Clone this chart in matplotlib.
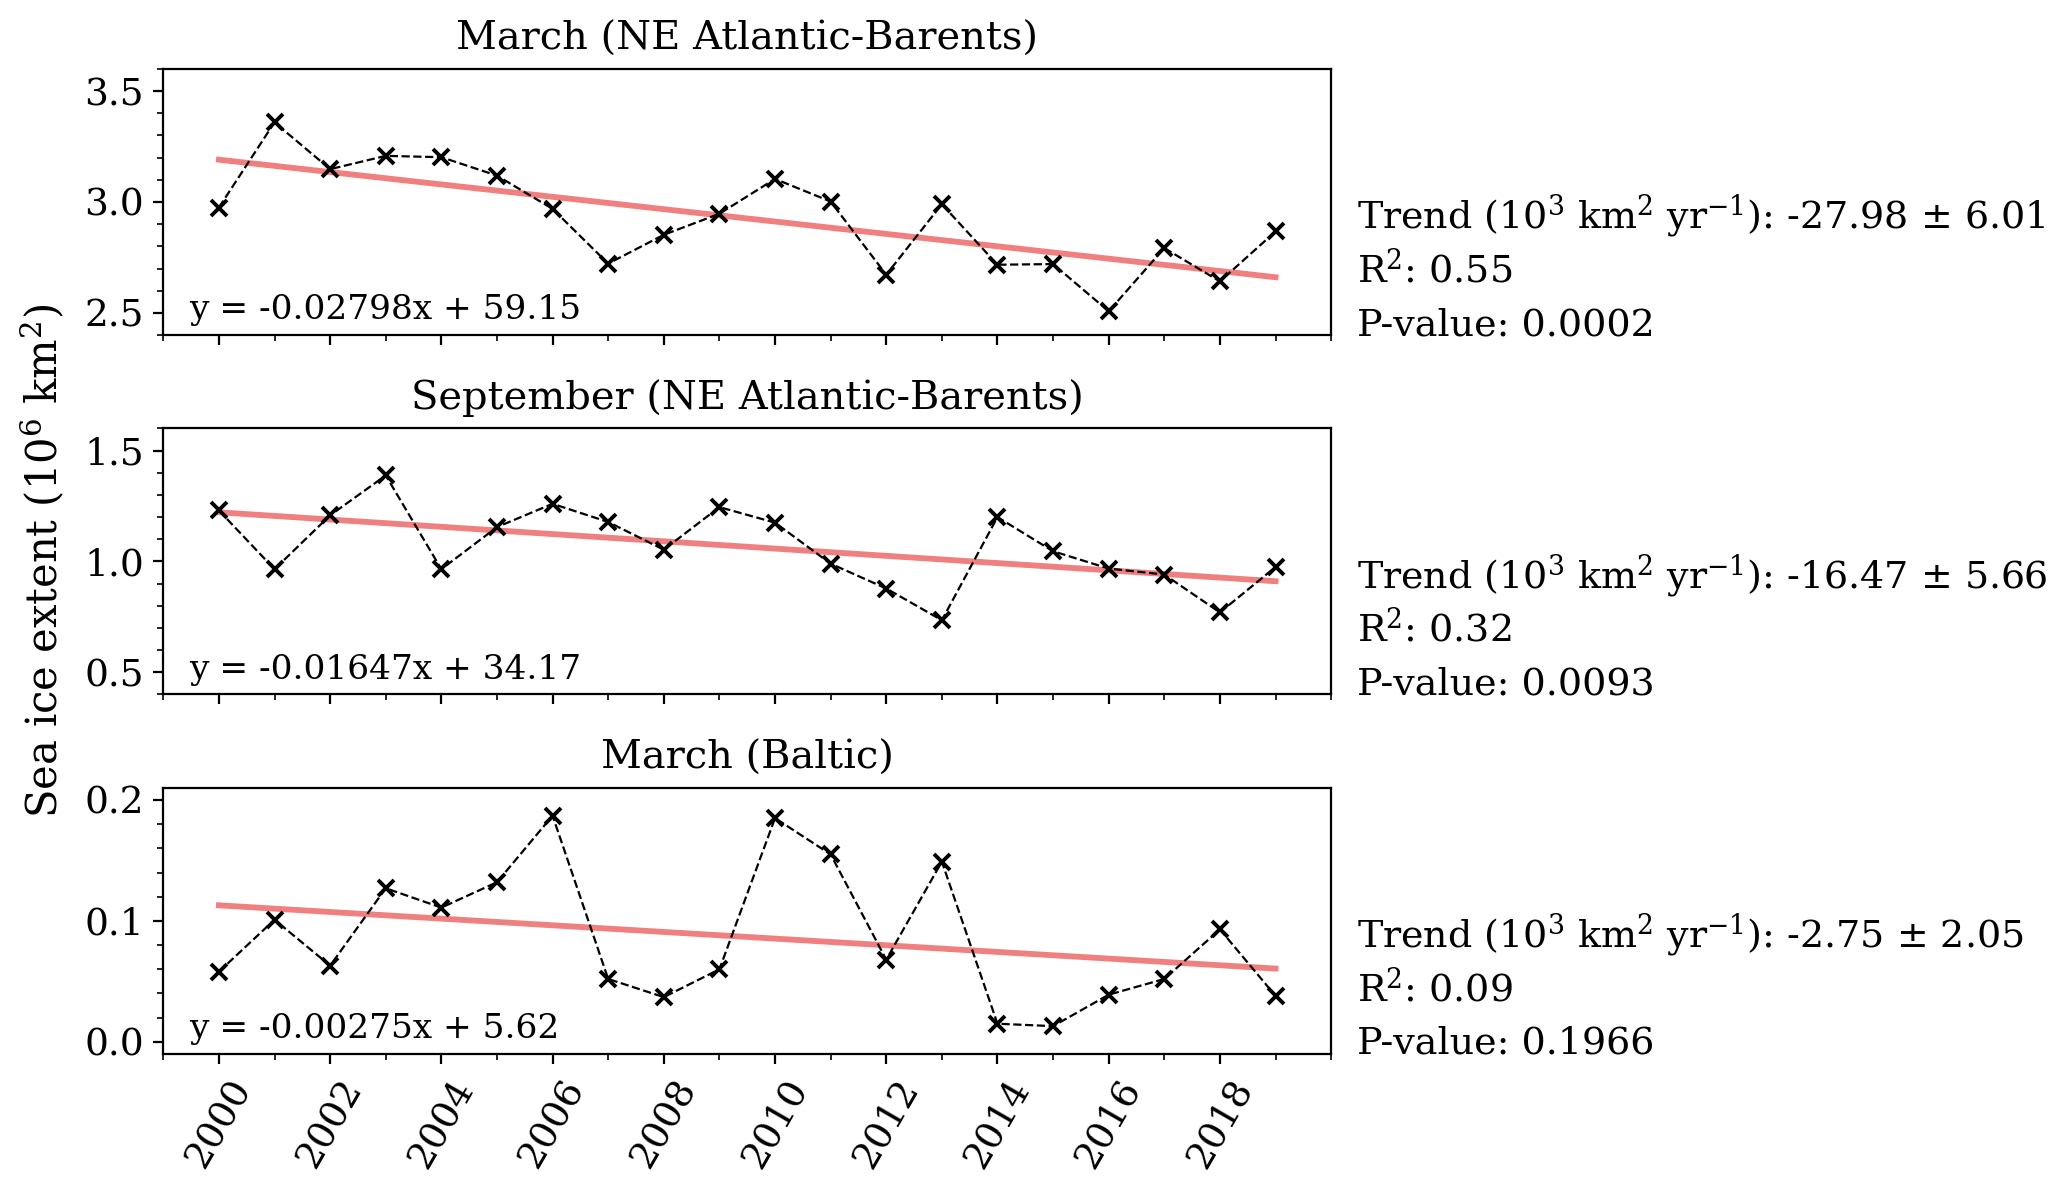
import numpy as np
import matplotlib
matplotlib.use('Agg')
import matplotlib.pyplot as plt
from matplotlib.ticker import MultipleLocator, AutoMinorLocator

plt.rcParams['font.family'] = 'DejaVu Serif'
plt.rcParams['mathtext.fontset'] = 'dejavuserif'

years = list(range(2000, 2020))
year_ticks = list(range(2000, 2019, 2))

# sea ice extent, 10^6 km^2
march_nea = [2.975, 3.359, 3.148, 3.208, 3.202, 3.119, 2.969, 2.722, 2.852, 2.947,
             3.104, 3.002, 2.672, 2.990, 2.717, 2.720, 2.507, 2.792, 2.642, 2.867]
sept_nea = [1.230, 0.965, 1.208, 1.388, 0.965, 1.155, 1.260, 1.178, 1.053, 1.245,
            1.175, 0.990, 0.878, 0.735, 1.200, 1.046, 0.968, 0.941, 0.770, 0.975]
march_baltic = [0.058, 0.101, 0.063, 0.127, 0.111, 0.132, 0.187, 0.052, 0.037, 0.060,
                0.185, 0.155, 0.068, 0.149, 0.015, 0.013, 0.039, 0.052, 0.093, 0.038]

titles = ['March (NE Atlantic-Barents)', 'September (NE Atlantic-Barents)', 'March (Baltic)']
equations = ['y = -0.02798x + 59.15', 'y = -0.01647x + 34.17', 'y = -0.00275x + 5.62']
trends = ['-27.98 ± 6.01', '-16.47 ± 5.66', '-2.75 ± 2.05']
r2_values = ['0.55', '0.32', '0.09']
p_values = ['0.0002', '0.0093', '0.1966']
ylims = [(2.4, 3.6), (0.4, 1.6), (-0.01, 0.21)]
major_steps = [0.5, 0.5, 0.1]

series = [march_nea, sept_nea, march_baltic]

fig, axes = plt.subplots(3, 1, sharex=True, figsize=(10.335, 5.985), dpi=200)
plt.subplots_adjust(left=0.079, right=0.644, bottom=0.1195, top=0.9424, hspace=0.351)

for i, ax in enumerate(axes):
    vals = series[i]
    coef = np.polyfit(years, vals, 1)
    ax.plot(years, np.polyval(coef, years), color='#f08080', lw=2.1, zorder=1)
    ax.plot(years, vals, color='black', ls='--', lw=0.8, marker='x', ms=5.5, mew=1.4, zorder=2)
    ax.set_title(titles[i], fontsize=14.4, pad=7)
    ax.set_ylim(ylims[i])
    ax.yaxis.set_major_locator(MultipleLocator(major_steps[i]))
    ax.yaxis.set_minor_locator(AutoMinorLocator(5))
    ax.tick_params(axis='both', labelsize=13.5)
    ax.text(0.022, 0.06, equations[i], transform=ax.transAxes, fontsize=12.4, va='baseline')
    ax.text(1.022, 0.40, 'Trend (10$^3$ km$^2$ yr$^{-1}$): ' + trends[i],
            transform=ax.transAxes, fontsize=13.7, va='baseline')
    ax.text(1.022, 0.20, 'R$^2$: ' + r2_values[i], transform=ax.transAxes, fontsize=13.7, va='baseline')
    ax.text(1.022, 0.0, 'P-value: ' + p_values[i], transform=ax.transAxes, fontsize=13.7, va='baseline')

axes[-1].set_xlim(1999, 2020)
axes[-1].set_xticks(year_ticks)
axes[-1].xaxis.set_minor_locator(MultipleLocator(1))
plt.setp(axes[-1].get_xticklabels(), rotation=60)

fig.text(0.021, 0.531, 'Sea ice extent (10$^6$ km$^2$)', rotation=90, fontsize=15,
         ha='center', va='center')

fig.savefig('out.png', dpi=200)
